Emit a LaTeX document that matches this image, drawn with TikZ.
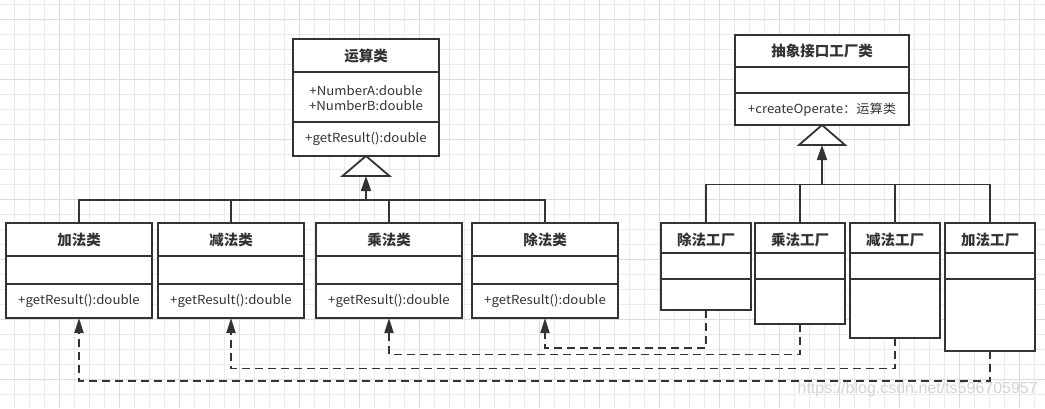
\documentclass[tikz,border=0pt]{standalone}
\usepackage{fontspec}
\newfontfamily\cjk{Noto Sans CJK SC}
\newfontfamily\cjkw{Noto Sans CJK SC}[FakeStretch=1.06]
\newfontfamily\wmfont{Liberation Sans}
\usetikzlibrary{arrows.meta}
\definecolor{lc}{HTML}{333333}
\definecolor{tc}{HTML}{333333}
\definecolor{gridminor}{HTML}{EBEBEB}
\definecolor{gridmajor}{HTML}{DCDCDC}
\definecolor{wm}{HTML}{D4D4D4}
\begin{document}
\begin{tikzpicture}[x=1pt,y=-1pt,
  box/.style={draw=lc, line width=1.8pt, fill=white, inner sep=0pt, outer sep=0pt, anchor=north west},
  sepl/.style={draw=lc, line width=1.8pt},
  ttl/.style={font=\cjk\bfseries\fontsize{14.5}{16}\selectfont, text=tc, inner sep=0pt},
  txt/.style={font=\cjkw\fontsize{12.5}{15.7}\selectfont, text=tc, inner sep=0pt, align=center},
  link/.style={draw=lc, line width=1.8pt},
  inh/.style={draw=lc, line width=1.8pt, -{Triangle[length=15pt,width=10pt]}},
  dep/.style={draw=lc, line width=1.8pt, dash pattern=on 8pt off 5pt, -{Triangle[length=15pt,width=9pt]}},
  tri/.style={draw=lc, line width=1.8pt, fill=white, line join=miter}
]
\useasboundingbox (0,0) rectangle (1045,408);
\fill[white] (0,0) rectangle (1045,408);
% grid
\foreach \x in {14,29,...,1044} \draw[gridminor, line width=0.9pt] (\x,0) -- (\x,408);
\foreach \y in {4,19,...,404} \draw[gridminor, line width=0.9pt] (0,\y) -- (1045,\y);
\foreach \x in {59,119,...,1019} \draw[gridmajor, line width=0.9pt] (\x,0) -- (\x,408);
\foreach \y in {19,79,...,379} \draw[gridmajor, line width=0.9pt] (0,\y) -- (1045,\y);

% watermark
\node[anchor=east, font=\wmfont\fontsize{16}{18}\selectfont, text=wm, inner sep=0pt] (wmk) at (1038,389) {https://blog.csdn.net/ts596705957};

% ---------- left hierarchy ----------
\node[box, minimum width=146pt, minimum height=117pt] (op) at (293,39) {};
\draw[sepl] (293,72) -- (439,72);
\draw[sepl] (293,122) -- (439,122);
\node[ttl] (opt) at (366,56) {运算类};
\node[txt] (opa) at (366,98) {+NumberA:double\\+NumberB:double};
\node[txt] (opm) at (366,139) {+getResult():double};

\foreach \n/\x/\t in {c1/6/加法类, c2/158/减法类, c3/316/乘法类, c4/472/除法类}{
  \node[box, minimum width=146pt, minimum height=95pt] (\n) at (\x,223) {};
  \draw[sepl] (\x,256) -- (\x+146,256);
  \draw[sepl] (\x,284) -- (\x+146,284);
  \node[ttl] (\n t) at (\x+73,240) {\t};
  \node[txt] (\n m) at (\x+73,301) {+getResult():double};
}

% inheritance left
\draw[tri] (366,156) -- (342.5,176) -- (389.5,176) -- cycle;
\coordinate (t1b) at (366,176);
\coordinate (bus1) at (366,200);
\draw[link] (c1.north) |- (bus1);
\draw[link] (c4.north) |- (bus1);
\draw[link] (c2.north) -- (c2.north |- bus1);
\draw[link] (c3.north) -- (c3.north |- bus1);
\draw[inh] (bus1) -- (t1b);

% ---------- right hierarchy ----------
\node[box, minimum width=174pt, minimum height=90pt] (af) at (735,35) {};
\draw[sepl] (735,67) -- (909,67);
\draw[sepl] (735,93) -- (909,93);
\node[ttl] (aft) at (822,51) {抽象接口工厂类};
\node[txt] (afm) at (822,110) {+createOperate：运算类};

\foreach \n/\x/\h/\t in {f1/661/87/除法工厂, f2/755/101/乘法工厂, f3/850/115/减法工厂, f4/945/128/加法工厂}{
  \node[box, minimum width=90pt, minimum height=\h pt] (\n) at (\x,223) {};
  \draw[sepl] (\x,253) -- (\x+90,253);
  \draw[sepl] (\x,279) -- (\x+90,279);
  \node[ttl] (\n t) at (\x+45,239.5) {\t};
}

\draw[tri] (822,125) -- (799,145) -- (845,145) -- cycle;
\coordinate (t2b) at (822,145);
\coordinate (bus2) at (822,184.5);
\draw[link] (f1.north) |- (bus2);
\draw[link] (f4.north) |- (bus2);
\draw[link] (f2.north) -- (f2.north |- bus2);
\draw[link] (f3.north) -- (f3.north |- bus2);
\draw[inh] (bus2) -- (t2b);

% ---------- dependencies ----------
\coordinate (d1) at (706,348);
\coordinate (d2) at (800,354.5);
\coordinate (d3) at (895,368.5);
\coordinate (d4) at (990,381);
\draw[dep] (f1.south) -- (d1) -| (c4.south);
\draw[dep] (f2.south) -- (d2) -| (c3.south);
\draw[dep] (f3.south) -- (d3) -| (c2.south);
\draw[dep] (f4.south) -- (d4) -| (c1.south);
\end{tikzpicture}
\end{document}
